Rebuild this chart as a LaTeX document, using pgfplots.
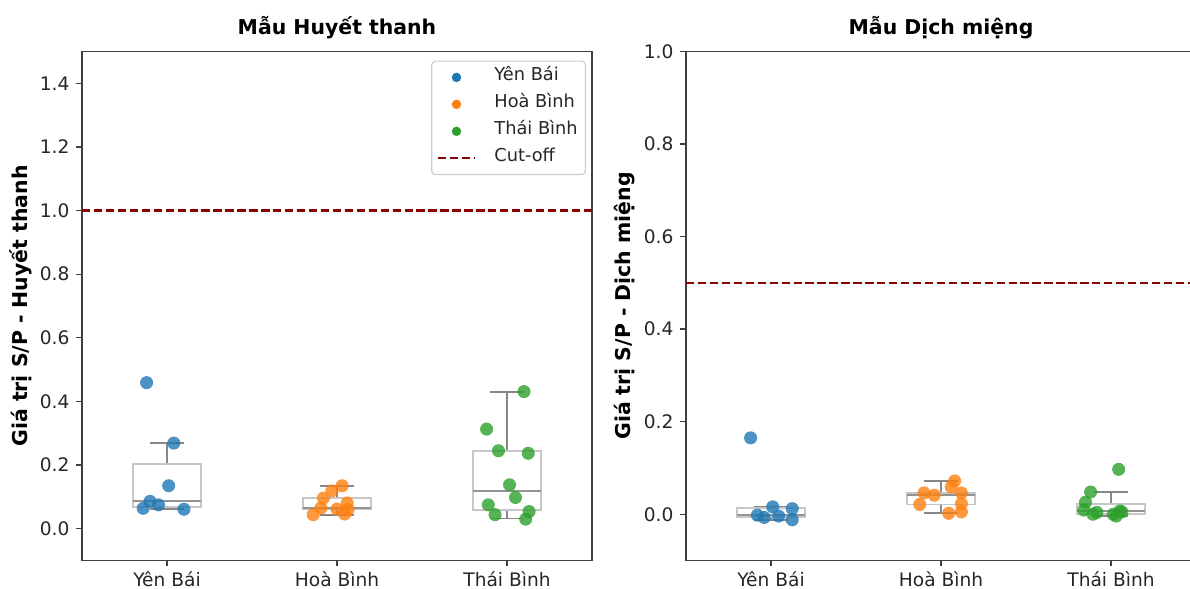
\documentclass[border=0pt]{standalone}
\usepackage{fontspec}
\setmainfont{DejaVu Sans}
\usepackage{pgfplots}
\pgfplotsset{compat=1.18}
\usepgfplotslibrary{statistics}
\definecolor{tabblue}{HTML}{1F77B4}
\definecolor{taborange}{HTML}{FF7F0E}
\definecolor{tabgreen}{HTML}{2CA02C}
\definecolor{cutred}{HTML}{8B0000}
\pgfplotsset{
  panel/.style={
    scale only axis, width=367.2pt, height=366.5pt, anchor=south west,
    xmin=-0.5, xmax=2.5, ymin=-0.1,
    xtick={0,1,2}, xticklabels={Yên Bái,Hoà Bình,Thái Bình},
    tick pos=left, tick align=outside, major tick length=4.3pt,
    tick style={black!75, line width=0.9pt},
    axis line style={black!75, line width=0.9pt},
    tick label style={font=\fontsize{13.4}{15}\selectfont, text=black!85},
    /pgf/number format/assume math mode=true,
    yticklabel style={xshift=-1.2pt, /pgf/number format/.cd, fixed, fixed zerofill, precision=1},
    title style={font=\fontsize{14.7}{17}\selectfont\bfseries, at={(0.5,1)}, anchor=base, yshift=6.2pt},
    ylabel style={font=\fontsize{14.7}{17}\selectfont\bfseries, at={(axis description cs:-0.1196,0.5)}, anchor=center},
    boxplot/draw direction=y,
  },
  bx/.style={draw=black!22, line width=1.4pt, solid, fill=none,
    boxplot/every whisker/.style={draw=black!47},
    boxplot/every median/.style={draw=black!42},
    forget plot},
  pts/.style={only marks, color=#1, mark=*, mark size=4.7pt, mark options={fill=#1, draw=#1, fill opacity=0.8, draw opacity=0}},
  dotleg/.style={legend image code/.code={\path[draw=none, fill=none] (0pt,-0.5pt) rectangle (27pt,0.5pt); \path[draw=none, fill=#1] (13.5pt,0pt) circle (3.4pt);}},
  cutleg/.style={legend image code/.code={\path[draw=cutred, line width=1.6pt, dash pattern=on 6pt off 2.6pt] (0pt,0pt) -- (27pt,0pt);}},
}
\begin{document}
\begin{tikzpicture}
\begin{axis}[panel, at={(59.04pt,19.8pt)}, ymax=1.5,
  ytick={0,0.2,0.4,0.6,0.8,1.0,1.2,1.4},
  title={Mẫu Huyết thanh}, ylabel={Giá trị S/P - Huyết thanh},
  legend style={at={(0.988,0.982)}, anchor=north east, draw=black!20, rounded corners=2.5pt,
    line width=0.8pt, fill=white, font=\fontsize{12.8}{14}\selectfont, text=black!85,
    inner xsep=3.5pt, inner ysep=5pt, row sep=6pt, column sep=11pt,
    nodes={inner sep=2pt, text height=0.72em, text depth=0.22em}},
  legend cell align=left]
\addplot[bx, boxplot prepared={draw position=0, box extend=0.4, whisker extend=0.2, lower whisker=0.061, lower quartile=0.0695, median=0.086, upper quartile=0.202, upper whisker=0.269}] coordinates {};
\addplot[bx, boxplot prepared={draw position=1, box extend=0.4, whisker extend=0.2, lower whisker=0.044, lower quartile=0.061, median=0.066, upper quartile=0.096, upper whisker=0.135}] coordinates {};
\addplot[bx, boxplot prepared={draw position=2, box extend=0.4, whisker extend=0.2, lower whisker=0.032, lower quartile=0.059, median=0.118, upper quartile=0.245, upper whisker=0.431}] coordinates {};
\addplot[pts=tabblue, dotleg=tabblue] coordinates {(-0.12,0.459) (0.04,0.269) (0.01,0.135) (-0.10,0.086) (-0.05,0.075) (-0.14,0.064) (0.10,0.061)};
\addlegendentry{Yên Bái}
\addplot[pts=taborange, dotleg=taborange] coordinates {(1.03,0.135) (0.97,0.119) (0.92,0.096) (1.06,0.081) (0.905,0.065) (1.0,0.062) (1.065,0.060) (1.045,0.046) (0.86,0.044)};
\addlegendentry{Hoà Bình}
\addplot[pts=tabgreen, dotleg=tabgreen] coordinates {(2.10,0.431) (1.88,0.313) (1.95,0.245) (2.125,0.237) (2.015,0.138) (2.05,0.098) (1.89,0.075) (2.13,0.054) (1.93,0.044) (2.11,0.030)};
\addlegendentry{Thái Bình}
\addplot[cutred, line width=1.6pt, dash pattern=on 6pt off 2.6pt, cutleg] coordinates {(-0.5,1) (2.5,1)};
\addlegendentry{Cut-off}
\end{axis}
\begin{axis}[panel, at={(493.92pt,19.8pt)}, ymax=1.0,
  ytick={0,0.2,0.4,0.6,0.8,1.0},
  title={Mẫu Dịch miệng}, ylabel={Giá trị S/P - Dịch miệng}]
\addplot[bx, boxplot prepared={draw position=0, box extend=0.4, whisker extend=0.2, lower whisker=-0.012, lower quartile=-0.0055, median=-0.002, upper quartile=0.014, upper whisker=0.016}] coordinates {};
\addplot[bx, boxplot prepared={draw position=1, box extend=0.4, whisker extend=0.2, lower whisker=0.002, lower quartile=0.021, median=0.041, upper quartile=0.046, upper whisker=0.072}] coordinates {};
\addplot[bx, boxplot prepared={draw position=2, box extend=0.4, whisker extend=0.2, lower whisker=-0.004, lower quartile=0.001, median=0.006, upper quartile=0.0218, upper whisker=0.048}] coordinates {};
\addplot[pts=tabblue] coordinates {(-0.12,0.165) (0.01,0.016) (0.125,0.012) (-0.08,-0.002) (-0.04,-0.007) (0.045,-0.004) (0.125,-0.012)};
\addplot[pts=taborange] coordinates {(1.08,0.072) (1.06,0.059) (1.12,0.046) (0.90,0.046) (0.96,0.041) (1.12,0.023) (0.875,0.021) (1.045,0.002) (1.12,0.005)};
\addplot[pts=tabgreen] coordinates {(2.045,0.097) (1.88,0.048) (1.85,0.026) (1.84,0.009) (1.894,0.000) (1.917,0.004) (2.013,0.000) (2.03,-0.004) (2.052,0.007) (2.064,0.005)};
\addplot[cutred, line width=1.6pt, dash pattern=on 6pt off 2.6pt] coordinates {(-0.5,0.5) (2.5,0.5)};
\end{axis}
\pgfresetboundingbox
\path (0pt,0pt) rectangle (856.8pt,423.36pt);
\end{tikzpicture}
\end{document}
